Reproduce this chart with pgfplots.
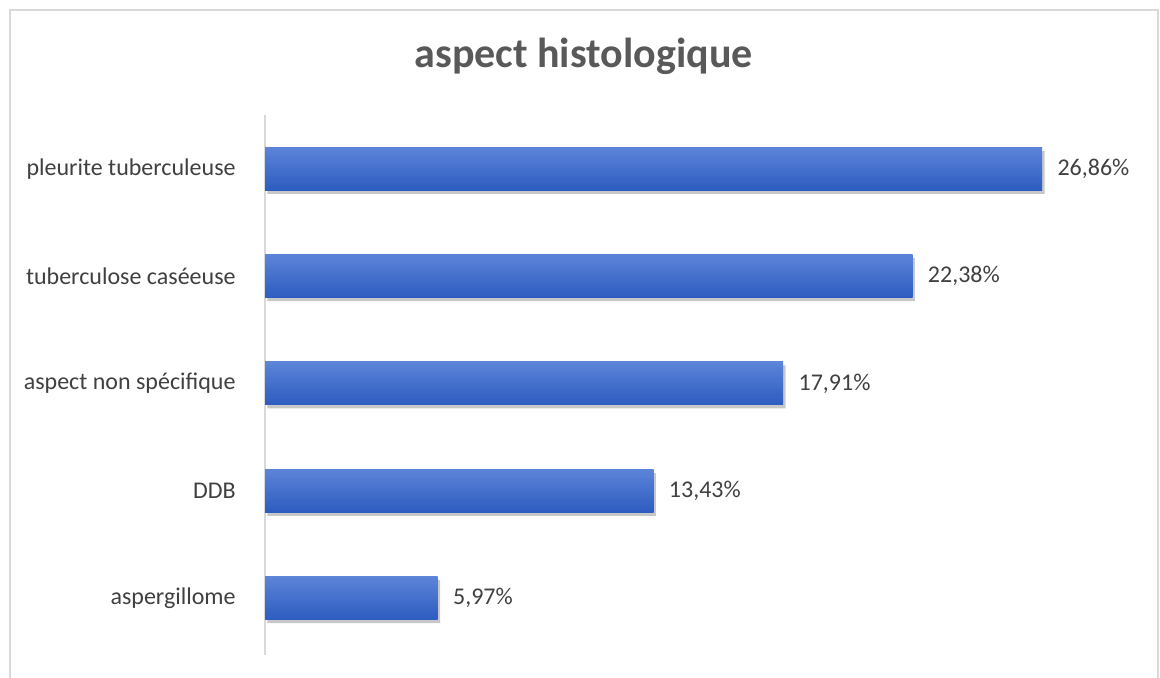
\documentclass[border=0pt]{standalone}
\usepackage{pgfplots}
\pgfplotsset{compat=1.18}
\usepackage{fontspec}
\setmainfont{Carlito}

\definecolor{barTop}{RGB}{92,132,216}
\definecolor{barBottom}{RGB}{45,92,192}
\definecolor{labelGray}{RGB}{64,64,64}
\definecolor{titleGray}{RGB}{89,89,89}
\definecolor{frameGray}{RGB}{217,217,217}

\pgfplotsset{
  shadowbar/.style={draw=none, fill=black, fill opacity=0.22, bar shift=-1.8pt,
    xshift=1.2pt, forget plot, nodes near coords={}},
  bluebar/.style={draw=none, top color=barTop, bottom color=barBottom, bar shift=0pt},
}

\begin{document}
\begin{tikzpicture}[x=0.5pt,y=0.5pt]
  % page extent
  \path[use as bounding box] (0,0) rectangle (1160,677);
  % chart frame
  \draw[frameGray, line width=0.9pt] (10,-5) -- (10,667) -- (1158,667) -- (1158,-5);
  % title
  \node[anchor=base, font=\bfseries\fontsize{21}{25}\selectfont, text=titleGray]
    at (583.5,610) {aspect histologique};

  \begin{axis}[
    at={(132.5pt,11pt)}, anchor=south west,
    scale only axis,
    width=434pt, height=270pt,
    xbar, bar width=21.5pt,
    xmin=0, xmax=30,
    ymin=-0.53, ymax=4.5,
    axis x line=none,
    axis y line*=left,
    y axis line style={frameGray, line width=0.9pt, -},
    ytick={0,1,2,3,4},
    yticklabels={aspergillome, DDB, aspect non spécifique, tuberculose caséeuse, pleurite tuberculeuse},
    major tick length=0pt,
    yticklabel style={anchor=east, inner sep=0pt, xshift=-14.5pt,
      font=\fontsize{12}{14}\selectfont, text=labelGray},
    point meta=x,
    every node near coord/.append style={anchor=west, inner sep=0pt, xshift=7.5pt,
      font=\fontsize{12}{14}\selectfont, text=labelGray},
  ]
    % soft shadows under the bars
    \addplot[shadowbar] coordinates {(5.97,0) (13.43,1) (17.91,2) (22.38,3) (26.86,4)};
    % one plot per bar so that each bar carries its own gradient
    \pgfplotsset{every axis plot/.append style={
      nodes near coords={\pgfmathprintnumber[fixed, fixed zerofill, precision=2, use comma, assume math mode=true]{\pgfplotspointmeta}\%}}}
    \addplot[bluebar] coordinates {(5.97,0)};
    \addplot[bluebar] coordinates {(13.43,1)};
    \addplot[bluebar] coordinates {(17.91,2)};
    \addplot[bluebar] coordinates {(22.38,3)};
    \addplot[bluebar] coordinates {(26.86,4)};
  \end{axis}
\end{tikzpicture}
\end{document}
